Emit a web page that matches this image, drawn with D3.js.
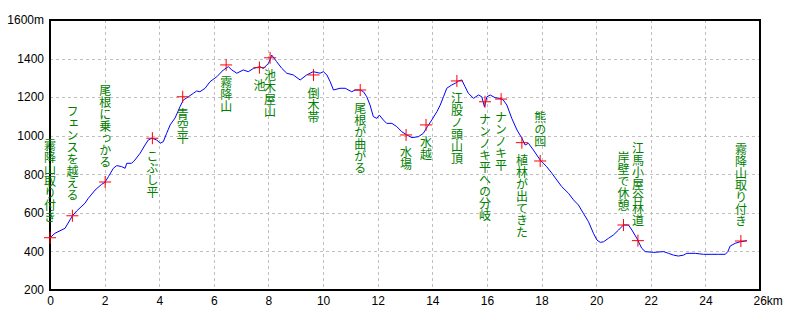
<!DOCTYPE html>
<html>
<head>
<meta charset="utf-8">
<script src="https://cdn.jsdelivr.net/npm/d3@7"></script>
<style>
  body { margin:0; background:#fff; }
  svg { display:block; }
</style>
</head>
<body>
<div id="chart"></div>
<script>
var width=800,height=320;
var margin={left:50,top:20,right:40,bottom:30};

// profile: distance (km) and elevation (m)
var distKm=[0,0.18,0.55,0.73,0.82,0.98,1.28,1.4,1.65,1.89,2.01,2.14,2.32,2.44,2.62,2.75,2.81,2.99,3.11,3.3,
  3.48,3.6,3.73,3.91,4.03,4.15,4.27,4.4,4.58,4.76,4.88,5.07,5.25,5.37,5.49,5.68,5.86,6.11,6.35,6.53,
  6.66,6.84,7.08,7.26,7.45,7.69,7.81,8.0,8.12,8.3,8.49,8.67,8.91,9.16,9.4,9.64,9.89,10.01,10.14,10.26,
  10.38,10.62,10.81,11.05,11.17,11.36,11.48,11.6,11.72,11.84,11.97,12.06,12.21,12.33,12.52,12.7,12.88,13.07,13.25,13.49,
  13.67,13.82,13.98,14.17,14.29,14.41,14.53,14.71,14.84,14.96,15.08,15.2,15.32,15.51,15.69,15.81,15.91,16.0,16.12,16.3,
  16.48,16.6,16.73,16.91,17.1,17.28,17.4,17.52,17.7,17.95,18.19,18.38,18.56,18.74,18.99,19.17,19.35,19.53,19.72,19.9,
  20.03,20.15,20.27,20.45,20.63,20.82,21.0,21.18,21.31,21.49,21.67,21.8,22.1,22.47,22.65,22.83,23.01,23.2,23.32,23.63,
  23.93,24.24,24.48,24.73,24.82,24.91,25.09,25.27,25.52];
var elevM=[471,494,520,563,585,610,650,675,718,748,758,788,831,845,840,831,857,857,874,909,
  952,978,987,978,961,969,1012,1056,1092,1150,1185,1202,1220,1232,1228,1246,1280,1306,1341,1358,
  1341,1324,1341,1332,1349,1358,1349,1375,1418,1384,1349,1324,1315,1289,1315,1332,1324,1332,1315,1280,
  1237,1246,1246,1228,1237,1237,1228,1202,1159,1099,1090,1107,1081,1064,1064,1047,1021,1004,990,995,
  1012,1047,1081,1125,1159,1202,1246,1263,1272,1284,1289,1254,1220,1194,1211,1202,1150,1202,1211,1197,
  1194,1185,1159,1090,1030,987,952,961,926,874,839,805,770,736,701,667,641,598,554,494,
  459,447,450,468,485,511,537,537,511,468,416,399,395,399,390,381,376,381,390,390,
  385,385,385,385,399,428,442,450,456];

// waypoints
var markNames=["霧降山取り付き","フェンスを越える","尾根に乗っかる","こぶし平","青空平","霧降山","池","池木屋山",
  "倒木帯","尾根が曲がる","水場","水越","江股ノ頭山頂","ナンノキ平への分岐","ナンノキ平","植林が出てきた",
  "熊の囮","岸壁で休憩","江馬小屋谷林道","霧降山取り付き"];
var markKm=[0,0.82,2.02,3.75,4.86,6.45,7.67,8.06,9.65,11.36,13.04,13.77,14.9,15.93,16.52,17.28,17.95,21.0,21.53,25.3];
var markM=[471,585,760,987,1202,1367,1353,1404,1315,1237,1004,1056,1284,1176,1190,964,869,537,456,454];
var labelSide=["up","up","up","down","down","down","down","down","down","down",
  "down","down","down","down","down","down","up","up","up","up"];

var xTicks=d3.range(0,27,2);
var yTicks=d3.range(200,1601,200);

var x=d3.scaleLinear().domain([0,26]).range([margin.left,width-margin.right]);
var y=d3.scaleLinear().domain([200,1600]).range([height-margin.bottom,margin.top]);

var svg=d3.select("#chart").append("svg")
  .attr("width",width).attr("height",height)
  .style("font-family","'Liberation Sans',Arial,sans-serif");

// grid
svg.append("g").selectAll("line").data(xTicks.slice(1,-1)).enter().append("line")
  .attr("x1",d=>Math.round(x(d))+0.5).attr("x2",d=>Math.round(x(d))+0.5)
  .attr("y1",y(1600)).attr("y2",y(200))
  .attr("stroke","#c0c0c0").attr("stroke-dasharray","3,3");
svg.append("g").selectAll("line").data(yTicks.slice(1,-1)).enter().append("line")
  .attr("y1",d=>Math.round(y(d))+0.5).attr("y2",d=>Math.round(y(d))+0.5)
  .attr("x1",x(0)).attr("x2",x(26))
  .attr("stroke","#c0c0c0").attr("stroke-dasharray","3,3");

// axes
var yAxis=d3.axisLeft(y).tickValues(yTicks).tickSize(0).tickPadding(6)
  .tickFormat(d=>d==1600?d+"m":d);
var gy=svg.append("g").attr("transform","translate("+x(0)+",0)").call(yAxis);
var xAxis=d3.axisBottom(x).tickValues(xTicks).tickSize(0).tickPadding(6)
  .tickFormat(d=>d==26?d+"km":d);
var gx=svg.append("g").attr("transform","translate(0,"+y(200)+")").call(xAxis);
gx.selectAll(".tick text").filter(d=>d==26).attr("text-anchor","start").attr("x",-7);
[gx,gy].forEach(g=>{
  g.select(".domain").remove();
  g.selectAll("text").attr("font-size",12).attr("fill","#000").attr("font-family","'Liberation Sans',Arial,sans-serif");
});

// frame
svg.append("rect").attr("x",x(0)).attr("y",y(1600))
  .attr("width",x(26)-x(0)).attr("height",y(200)-y(1600))
  .attr("fill","none").attr("stroke","#000").attr("stroke-width",2);

// profile
var line=d3.line().x((d,i)=>x(distKm[i])).y(d=>y(d));
svg.append("path").datum(elevM).attr("d",line)
  .attr("fill","none").attr("stroke","#0000ff").attr("stroke-width",1);

// markers
var marks=svg.append("g").selectAll("g").data(markNames).enter().append("g")
  .attr("transform",(d,i)=>"translate("+x(markKm[i])+","+y(markM[i])+")");
marks.append("line").attr("x1",-6).attr("x2",6).attr("stroke","#ff0000");
marks.append("line").attr("y1",-6).attr("y2",6).attr("stroke","#ff0000");

// vertical labels
var fs=12;
svg.append("g").selectAll("text").data(markNames).enter().append("text")
  .attr("fill","#008000").attr("font-size",fs)
  .attr("font-family","'Noto Sans CJK JP',sans-serif")
  .style("writing-mode","vertical-rl")
  .style("text-orientation","upright")
  .attr("x",(d,i)=>x(markKm[i]))
  .attr("y",(d,i)=>labelSide[i]=="up" ? y(markM[i])-14-fs*Array.from(d).length : y(markM[i])+12)
  .text(d=>d);
</script>
</body>
</html>
